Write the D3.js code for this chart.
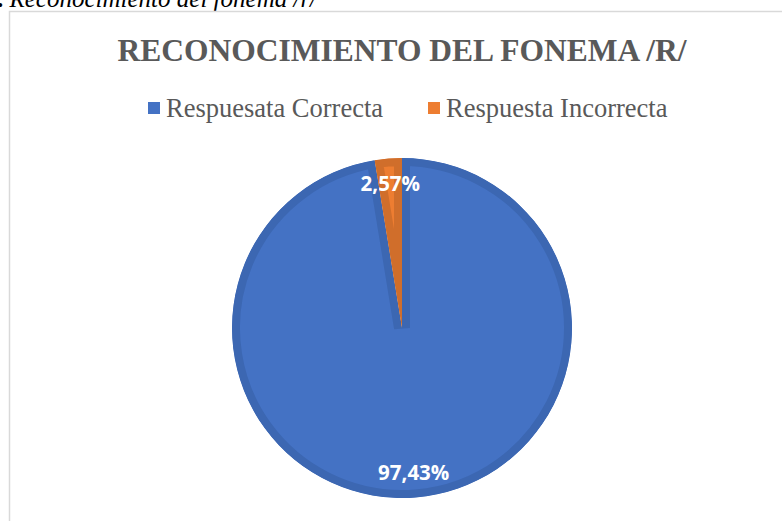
<!DOCTYPE html>
<html>
<head>
<meta charset="utf-8">
<script src="https://cdn.jsdelivr.net/npm/d3@7"></script>
<style>
  body { margin: 0; background: #fff; }
  svg { display: block; }
</style>
</head>
<body>
<div id="chart"></div>
<script>
// chart data
const categories = ["Respuesata Correcta", "Respuesta Incorrecta"];
const values = [97.43, 2.57];
const labels = ["97,43%", "2,57%"];
const colors = ["#4472c4", "#ed7d31"];
const edgeColors = ["#3c67b2", "#d06e2b"];

const width = 782;
const height = 521;

const svg = d3.select("#chart")
    .append("svg")
    .attr("width", width)
    .attr("height", height);

// caption cut off at the top (as in the source document)
const caption = svg.append("text")
    .attr("x", -3)
    .attr("y", 7)
    .style("font-family", "'Liberation Serif', 'Times New Roman', serif")
    .style("font-size", "25px")
    .attr("fill", "#000");
caption.append("tspan").style("font-weight", "bold").text(".");
caption.append("tspan").style("font-style", "italic").text(" Reconocimiento del fonema /r/");

// chart frame
svg.append("rect")
    .attr("x", 9.5)
    .attr("y", 11.5)
    .attr("width", 900)
    .attr("height", 700)
    .attr("fill", "#fff")
    .attr("stroke", "#d9d9d9")
    .attr("stroke-width", 1.5);

// title
svg.append("text")
    .attr("x", 402)
    .attr("y", 61)
    .attr("text-anchor", "middle")
    .style("font-family", "'Liberation Serif', 'Times New Roman', serif")
    .style("font-weight", "bold")
    .style("font-size", "31.5px")
    .attr("fill", "#595959")
    .text("RECONOCIMIENTO DEL FONEMA /R/");

// legend
const legendX = [148, 428];
const legend = svg.append("g").selectAll("g")
    .data(categories)
    .enter().append("g")
    .attr("transform", (d, i) => `translate(${legendX[i]},102)`);

legend.append("rect")
    .attr("width", 12)
    .attr("height", 12)
    .attr("fill", (d, i) => colors[i]);

legend.append("text")
    .attr("x", 18)
    .attr("y", 15)
    .style("font-family", "'Liberation Serif', 'Times New Roman', serif")
    .style("font-size", "26.5px")
    .attr("fill", "#595959")
    .text(d => d);

// pie
const cx = 402, cy = 328, r = 170;

const pie = d3.pie().sort(null).value(d => d);
const arcs = pie(values);

const arc = d3.arc().innerRadius(0).outerRadius(r);
const labelArc = d3.arc().innerRadius(145).outerRadius(145);

const g = svg.append("g").attr("transform", `translate(${cx},${cy})`);

const defs = svg.append("defs");
arcs.forEach((d, i) => {
    defs.append("clipPath")
        .attr("id", "slice" + i)
        .append("path")
        .attr("d", arc(d));
});

// slices with an inner bevel look (stroke clipped to the slice)
g.selectAll("path.slice")
    .data(arcs)
    .enter().append("path")
    .attr("class", "slice")
    .attr("d", arc)
    .attr("fill", (d, i) => colors[i])
    .attr("stroke", (d, i) => edgeColors[i])
    .attr("stroke-width", 16)
    .attr("stroke-linejoin", "miter")
    .attr("clip-path", (d, i) => `url(#slice${i})`);

// data labels
g.selectAll("text.lbl")
    .data(arcs)
    .enter().append("text")
    .attr("class", "lbl")
    .attr("transform", d => `translate(${labelArc.centroid(d)})`)
    .attr("text-anchor", "middle")
    .attr("dy", "0.35em")
    .style("font-family", "'Open Sans', sans-serif")
    .style("font-weight", "bold")
    .style("font-size", "20.5px")
    .attr("fill", "#fff")
    .text((d, i) => labels[i]);
</script>
</body>
</html>
